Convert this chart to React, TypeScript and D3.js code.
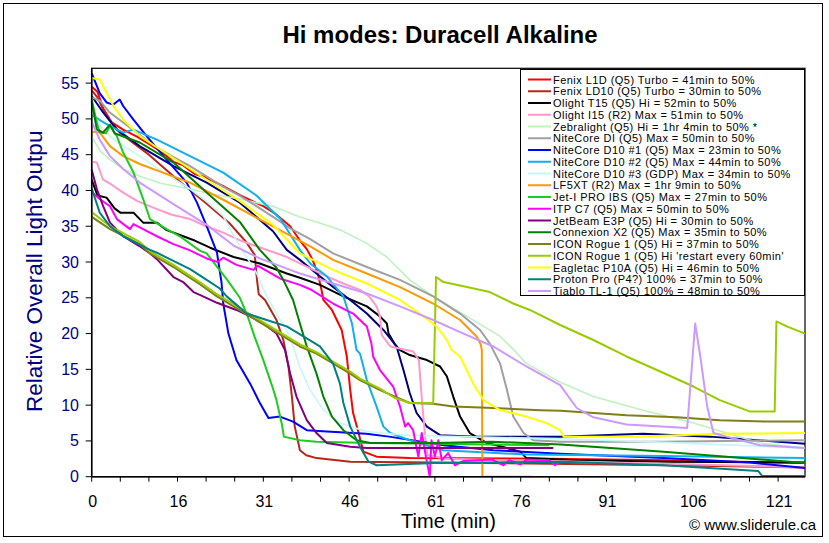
import React from "react";
import * as d3 from "d3";

type Pt = [number, number];

// x is the time index of the sheet (labels every 15 steps), y is relative output
const xTickLabels = ["0", "16", "31", "46", "61", "76", "91", "106", "121"];
const xTickIndex = [0, 15, 30, 45, 60, 75, 90, 105, 120];
const yTicks = [0, 5, 10, 15, 20, 25, 30, 35, 40, 45, 50, 55];

const fenixL1D: Pt[] = [[0,54.5],[1,53.8],[2,51.5],[3.5,49.5],[5.5,48.5],[8,47.5],[10,46.5],[12,45.5],[14.3,44],[16,43.5],[18,42.3],[20,41.8],[23,40.6],[26,39.3],[30,37.8],[32,36.8],[34.7,35],[36.4,33],[37.6,31.8],[38.5,30.5],[39.5,28.5],[40.2,26],[40.5,24.7],[42,23.3],[43.7,20.5],[44.6,16.8],[45.2,12.1],[45.7,8.9],[46.6,6.3],[47,5],[47.5,3.5],[49.8,2.8],[55.6,2.6],[80,2.5],[100,2.3],[124.7,1.9]];
const fenixLD10: Pt[] = [[0,54],[1,53],[2.5,50.5],[5,48],[10,45],[15,41.5],[20,38.2],[24,35.5],[27,32.8],[28.5,31],[28.9,27.5],[29.2,25.5],[30.3,24.7],[32.3,21.9],[33.5,19.1],[34.4,15.4],[35,11.2],[35.5,7],[36.4,3.7],[37.5,3],[39.3,2.6],[45.2,2.1],[60,2],[80,1.8],[100,1.6],[124.7,1.3]];
const olightT15: Pt[] = [[0,41.5],[1,39.3],[2.6,39],[4,37.5],[5,36.9],[7.3,36.9],[9,35.5],[11.4,35.5],[13,34.5],[16,33.6],[18,33],[20.7,32],[24.8,30.7],[29.4,29.8],[34.1,28.4],[36.4,27.8],[39.9,26.8],[44,25.2],[48.1,23.8],[50.4,22.4],[51.6,21.4],[51.9,20],[53,18.5],[53.9,17.7],[55.6,17],[58.6,16.3],[60.9,15.4],[62.1,14],[63.2,11.2],[64.4,8.4],[66.1,6.1],[69.1,4.7],[72.6,4],[74.9,3.5],[76,2.6],[85,2.3],[100,2.1],[124.7,2]];
const olightI15: Pt[] = [[0,44],[0.9,43.9],[2,41.5],[3.5,40.8],[5.5,39.7],[8,38.5],[11.4,37.4],[14,36.6],[17.2,36],[20,35],[23,34.1],[26,33],[28.8,32.2],[31.7,31.4],[34.1,30.7],[36.4,29.8],[41.1,28],[44,27],[46.9,26.1],[48.5,25.2],[49.8,23.8],[50.4,22.4],[50.7,19.8],[52.2,18.2],[56.2,17.5],[57.2,16.3],[57.7,11],[58.3,5.6],[58.7,3],[62,2.5],[80,2.2],[100,1.8],[124.7,1.3]];
const zebralight: Pt[] = [[0,47.5],[1.5,45.5],[3.2,44.3],[5.5,43],[8.4,42],[12,41],[17.2,40.2],[21,39.5],[25.9,38.8],[31.7,37.8],[36.4,36.3],[39.3,35.6],[43.4,34.5],[48.1,32.6],[51.6,30.7],[55.6,27.5],[59.7,25.2],[65.6,22.4],[71.4,19.6],[73.7,17.8],[76,15.8],[81.9,13.2],[87.7,11.2],[96.4,9.3],[105.2,7.5],[111,6.1],[116.8,4.7],[124.7,4]];
const niteCoreDI: Pt[] = [[0,53],[1.5,52.5],[3,51],[5.5,49.5],[8,48],[11.4,46],[14,44.8],[17.2,43.4],[20,42],[23,40.5],[26,39.2],[28.8,37.8],[31.7,36.3],[34.7,34.7],[38.2,33.2],[42.2,31.2],[48.1,29.3],[53.9,27.5],[59.7,25.2],[64.4,22.8],[67.9,20.5],[69.6,18.6],[71.4,15.8],[72.6,12.1],[73.7,8.4],[75.5,6.1],[77.2,5.1],[81.9,4.9],[100,4.9],[124.7,5.1]];
const niteCoreD10a: Pt[] = [[0,56.4],[1.4,53.6],[2.6,52.3],[3.8,52],[4.9,52.7],[5.5,51.8],[7.3,49.9],[9.6,47.6],[13.1,44.3],[16.6,41.1],[18.4,38.3],[20.1,35],[21.9,31.3],[22.7,27.1],[23,24.2],[23.9,20],[25.3,16.3],[27.7,13],[29.4,10.3],[30.9,8.2],[32.9,8.4],[35.2,7.7],[37.6,6.5],[41.1,6.3],[48,6],[52,5.6],[61.5,4.4],[70.2,3.7],[81.9,3.2],[100,2.6],[115,2],[124.7,1.2]];
const niteCoreD10b: Pt[] = [[0,50.6],[1.5,49.8],[3.2,49],[5.5,48.1],[7.3,48.5],[11.4,47.1],[17.2,44.8],[23,42.5],[28.8,39.3],[33,36],[36.4,31.7],[38.2,29.8],[41.1,28],[44,25.2],[45.5,21.4],[46.3,17.7],[46.9,17.2],[48.1,13.5],[49.8,9.8],[51,7],[52.2,6.1],[55.6,5.1],[61.5,3.7],[76,3.1],[100,2.9],[124.7,2.6]];
const niteCoreD10c: Pt[] = [[0,51],[2,48.5],[4,47],[8.4,44.8],[12,42.8],[17.2,40.2],[20,38.5],[23,36.4],[25.3,33],[28.8,28.5],[30.6,25.2],[32.3,22.8],[34.7,19.6],[36.4,15.3],[38.2,12.1],[40.5,9.3],[43.4,7.5],[48.1,6.3],[55,5.8],[70,5.5],[82,5.3],[100,4.8],[124.7,4]];
const lf5xt: Pt[] = [[0,48.2],[1.4,48.1],[3.2,46.2],[5.5,44.8],[8.4,43.7],[11.4,42.8],[17.2,41.1],[23,38.7],[28.8,36.2],[34.7,33.7],[38.2,32.2],[42.2,30.3],[48.1,28.4],[53.9,26.5],[59.7,24.2],[64.4,21.9],[67.3,19.6],[68,18.5],[68.2,17.7],[68.3,0],[76.9,0]];
const jetIPro: Pt[] = [[0,52.7],[0.9,49.5],[1.4,48.1],[2.5,48],[3.2,49],[4.4,47.6],[5.5,45.3],[7.3,42.5],[9,38.8],[10.2,36],[13.1,34.6],[15.4,33.6],[18.9,31.6],[20.1,31.2],[23.6,27.6],[25.9,25],[27.1,22.8],[28.5,19.5],[30,16.3],[31.7,12.3],[32.3,10.7],[33.2,7.5],[33.6,5.6],[36.4,5.1],[39.3,4.9],[48.7,4.7],[60,4.6],[80,4.4]];
const itpC7: Pt[] = [[0,39.8],[1.4,38.8],[3.2,37.8],[4.4,36],[6.7,34.6],[7.3,35.3],[9,34.6],[11.4,33.6],[14.3,32.5],[17,31.7],[20.1,30.5],[22,30],[23,30.6],[25.3,29.6],[28.3,28.9],[29,29.5],[32.9,27.7],[36.4,26.8],[38.2,26.2],[42.2,24.2],[45.7,22.8],[48.1,21],[48.9,18.6],[49.2,16.8],[50.4,14.9],[52.7,12.6],[53.9,9.8],[54.8,7],[55.3,7.5],[56.2,6.5],[57.1,2.8],[57.7,6.1],[58.5,2.5],[59.1,0],[59.4,5.1],[60,2.8],[60.6,5.1],[61.2,2.3],[62.3,3.3],[63.5,1.6],[65,2.2],[70,2.4],[72,1.6],[73,2.3],[75,1.7],[76,2.4],[80,2.3],[81,1.6],[82,2.2]];
const jetBeamE3P: Pt[] = [[0,42.9],[0.9,40.2],[2,37.8],[3.2,35.5],[5.5,33.6],[8.4,32.2],[10.2,31.2],[11.4,30.4],[14.3,27.9],[16,27.2],[17.8,25.8],[18.9,25.4],[21.9,24.3],[25.3,23.3],[27.7,22.4],[30,21.4],[32.3,20],[33.8,17.7],[34.7,14.4],[35.8,11.2],[37.6,7.9],[39.3,6.1],[41.1,4.7],[45.2,4.2],[48.1,4],[60,4],[80.7,4]];
const connexionX2: Pt[] = [[0,52.5],[0.9,48.5],[2,48.1],[3.2,49.2],[4,48],[8.4,46.7],[14.3,43.9],[20.1,39.7],[25.9,35.6],[29.4,31.7],[32.3,29.2],[33.5,27.5],[35.2,24.7],[36.4,21.4],[37.6,18.2],[39.3,14.4],[40.5,11.2],[42,8.4],[44,6.5],[46.3,5.1],[48.7,4.7],[60,4.7],[70,4.9],[82,4.5],[100,3.5],[124.7,1.9]];
const iconRogueHi: Pt[] = [[0,36.3],[3.2,34.6],[8.4,32.5],[10.2,31.2],[14.3,29.3],[16,28.4],[18.9,26.9],[21.9,25.2],[27.7,22.4],[33.5,19.6],[36.4,18.2],[39.3,17.2],[45.2,14.4],[46.9,13.5],[50.4,12.1],[55.6,10.3],[59.7,10.2],[63.2,9.8],[70.2,9.6],[78.4,9.3],[82,9.2],[93.5,8.6],[102.3,8.3],[109.8,7.9],[118,7.7],[124.7,7.7]];
const iconRogueRestart: Pt[] = [[0,37],[3.2,35],[8.4,32.8],[10.2,31.5],[14.3,29.6],[16,28.7],[18.9,27.2],[21.9,25.5],[27.7,22.7],[33.5,19.9],[36.4,18.5],[39.3,17.4],[45.2,14.7],[46.9,13.7],[50.4,12.3],[53,11],[55.6,10.3],[59.7,10.3],[60.2,27.9],[61.5,27.2],[65.6,26.5],[69.6,25.8],[73.7,24.2],[76.6,23.3],[81.9,21.2],[87.7,19.1],[93.5,16.8],[99.4,14.7],[105.2,12.6],[109.8,10.7],[115.1,9.1],[119.4,9.1],[119.7,21.7],[121.5,21],[124.7,20]];
const eagletacP10A: Pt[] = [[0,55.7],[1.4,55.5],[2.6,53.7],[3.8,51.8],[5.5,49.9],[8.4,47.6],[14.3,44.5],[20.1,41.5],[25.9,38.5],[31.7,35.2],[36.4,31.2],[42.2,28.9],[48.1,27],[53.9,24.7],[58,22.4],[60.3,21],[62.1,19.1],[62.9,17.7],[64.4,16.8],[66.7,13],[68.5,10.7],[71.4,9.3],[76,8.4],[79.5,7.5],[81.9,6.5],[82.5,5.6],[95,5.6],[110,6],[124.7,6.1]];
const protonPro: Pt[] = [[0,40.3],[1.4,36.9],[3.2,35],[5.5,33.6],[10.2,31.7],[11.4,31.3],[17.2,29],[20.1,27.5],[22.4,26.3],[23.6,25.2],[27.1,22.8],[30.6,21.9],[34.1,21],[37,19.6],[39.9,18.2],[42.2,15.8],[43.4,13],[44,10.3],[45.2,7],[46.9,4.2],[48.4,2.1],[49.8,1.6],[60,1.9],[82,2.1],[100,1.6],[116.5,0.8],[117.2,0.1],[124.7,0.1]];
const tiabloTL1: Pt[] = [[0,49.6],[1.4,47.1],[3.2,44.8],[5.5,43],[8.4,41.1],[14.3,38.1],[20.1,35.2],[24.8,32.3],[29.4,30.5],[34.7,28.9],[36.4,28.4],[42.2,27],[48.1,25.6],[53.9,23.8],[59.7,21.9],[64.4,20.2],[70.2,18.2],[76,15.4],[81.9,12.8],[84.8,9.6],[87.7,8.3],[93.5,7.3],[104.1,6.8],[105.5,21.4],[106.4,16.8],[107.6,9.8],[108.7,6.1],[111,5.6],[116.8,4.4],[124.7,4]];
// extra dark-blue trace drawn on the chart without a legend entry
const unlabelledNavy: Pt[] = [[0,53.2],[2,50.9],[4.4,48.5],[8.4,46.2],[14.3,43.4],[20.1,41.1],[25.9,38.3],[31.7,34.3],[34.1,31.7],[36.4,30.3],[39.3,28.4],[42.2,26.5],[45.2,24.7],[48.1,22.8],[51,20.5],[53.3,18.2],[54.5,14.9],[55.6,11.7],[56.8,8.9],[58.6,7],[60.9,5.8],[67.3,5.6],[81.9,5.6],[96.4,6],[108.1,5.6],[124.7,4.6]];

const seriesNames = [
  "Fenix L1D (Q5) Turbo = 41min to 50%",
  "Fenix LD10 (Q5) Turbo = 30min to 50%",
  "Olight T15 (Q5) Hi = 52min to 50%",
  "Olight I15 (R2) Max = 51min to 50%",
  "Zebralight (Q5) Hi = 1hr 4min to 50% *",
  "NiteCore DI (Q5) Max = 50min to 50%",
  "NiteCore D10 #1 (Q5) Max = 23min to 50%",
  "NiteCore D10 #2 (Q5) Max = 44min to 50%",
  "NiteCore D10 #3 (GDP) Max = 34min to 50%",
  "LF5XT (R2) Max = 1hr 9min to 50%",
  "Jet-I PRO IBS (Q5) Max = 27min to 50%",
  "ITP C7 (Q5) Max = 50min to 50%",
  "JetBeam E3P (Q5) Hi = 30min to 50%",
  "Connexion X2 (Q5) Max = 35min to 50%",
  "ICON Rogue 1 (Q5) Hi = 37min to 50%",
  "ICON Rogue 1 (Q5) Hi 'restart every 60min'",
  "Eagletac P10A (Q5) Hi = 46min to 50%",
  "Proton Pro (P4?) 100% = 37min to 50%",
  "Tiablo TL-1 (Q5) 100% = 48min to 50%",
];
const seriesColors = [
  "#FF0000", "#B5271B", "#000000", "#FF99CC", "#BFF2BF", "#A0A0A0", "#0000FF",
  "#10B0EE", "#C6F7F7", "#FF9900", "#1ECC1E", "#FF00FF", "#800080", "#008000",
  "#7F7F1A", "#99CC00", "#FFFF00", "#008080", "#CC99FF",
];
const seriesData: Pt[][] = [
  fenixL1D, fenixLD10, olightT15, olightI15, zebralight, niteCoreDI, niteCoreD10a,
  niteCoreD10b, niteCoreD10c, lf5xt, jetIPro, itpC7, jetBeamE3P, connexionX2,
  iconRogueHi, iconRogueRestart, eagletacP10A, protonPro, tiabloTL1,
];
const extraColor = "#000080";

const W = 829, H = 543;
const L = 91.7, R = 805, T = 68.3, B = 476.7;
const FONT = "'Liberation Sans', Arial, sans-serif";

export default function App() {
  const x = d3.scaleLinear().domain([0, 124.7]).range([L, R]);
  const y = d3.scaleLinear().domain([0, 57.07]).range([B, T]);
  const line = d3.line<Pt>().x((d) => x(d[0])).y((d) => y(d[1]));
  const minorX = d3.range(0, 125, 5);

  const drawOrder = seriesData.map((d, i) => ({ d, c: seriesColors[i], w: seriesColors[i] === "#BFF2BF" || seriesColors[i] === "#C6F7F7" ? 1.6 : 2 }));
  drawOrder.splice(3, 0, { d: unlabelledNavy, c: extraColor, w: 2 });

  const legX = 520.5, legY = 69.5, legW = 284, legH = 226;
  const rowH = 11.75;

  return (
    <svg width={W} height={H} style={{ position: "absolute", left: 0, top: 0, background: "#fff" }} fontFamily={FONT}>
      <defs>
        <clipPath id="plotClip"><rect x={L - 2} y={T - 2} width={R - L + 4} height={B - T + 4} /></clipPath>
        <clipPath id="ytClip"><rect x={0} y={131} width={80} height={400} /></clipPath>
      </defs>
      <rect x={0} y={0} width={W} height={H} fill="#fff" />
      <rect x={3.5} y={3.5} width={819} height={533} fill="#fff" stroke="#000" strokeWidth={1} />
      <text x={440} y={43} textAnchor="middle" fontSize={24} fontWeight="bold" fill="#000">Hi modes: Duracell Alkaline</text>

      <rect x={L} y={T} width={R - L} height={B - T} fill="#fff" stroke="#000" strokeWidth={1.2} />

      <g clipPath="url(#plotClip)">
        {drawOrder.map((s, i) => (
          <path key={i} d={line(s.d) || ""} fill="none" stroke={s.c} strokeWidth={s.w} strokeLinejoin="round" />
        ))}
      </g>

      {/* y axis */}
      <line x1={L} x2={L} y1={T} y2={B} stroke="#000" strokeWidth={1.5} />
      {yTicks.map((v) => (
        <g key={v}>
          <line x1={L - 6} x2={L} y1={y(v)} y2={y(v)} stroke="#000" strokeWidth={1} />
          <text x={79} y={y(v) + 5.5} textAnchor="end" fontSize={16} fill="#000080">{v}</text>
        </g>
      ))}
      <g clipPath="url(#ytClip)">
        <text transform={`translate(42,412) rotate(-90)`} fontSize={22.5} fill="#000080">Relative Overall Light Output</text>
      </g>

      {/* x axis */}
      <line x1={L} x2={R} y1={B} y2={B} stroke="#000" strokeWidth={1.5} />
      {minorX.map((v) => (
        <line key={v} x1={x(v)} x2={x(v)} y1={B} y2={B + 5} stroke="#000" strokeWidth={1} />
      ))}
      {xTickLabels.map((lab, i) => (
        <text key={lab} x={x(xTickIndex[i]) + 1} y={506.5} textAnchor="middle" fontSize={16} fill="#000">{lab}</text>
      ))}
      <text x={448.5} y={528} textAnchor="middle" fontSize={20} fill="#000">Time (min)</text>
      <text x={816} y={530} textAnchor="end" fontSize={15} fill="#000">© www.sliderule.ca</text>

      {/* legend */}
      <rect x={legX} y={legY} width={legW} height={legH} fill="#fff" stroke="#000" strokeWidth={1} />
      {seriesNames.map((n, i) => {
        const cy = 79.5 + i * rowH;
        return (
          <g key={n}>
            <line x1={528} x2={551} y1={cy} y2={cy} stroke={seriesColors[i]} strokeWidth={2} />
            <text x={553} y={cy + 4} fontSize={11} letterSpacing={0.45} fill="#000">{n}</text>
          </g>
        );
      })}
    </svg>
  );
}
